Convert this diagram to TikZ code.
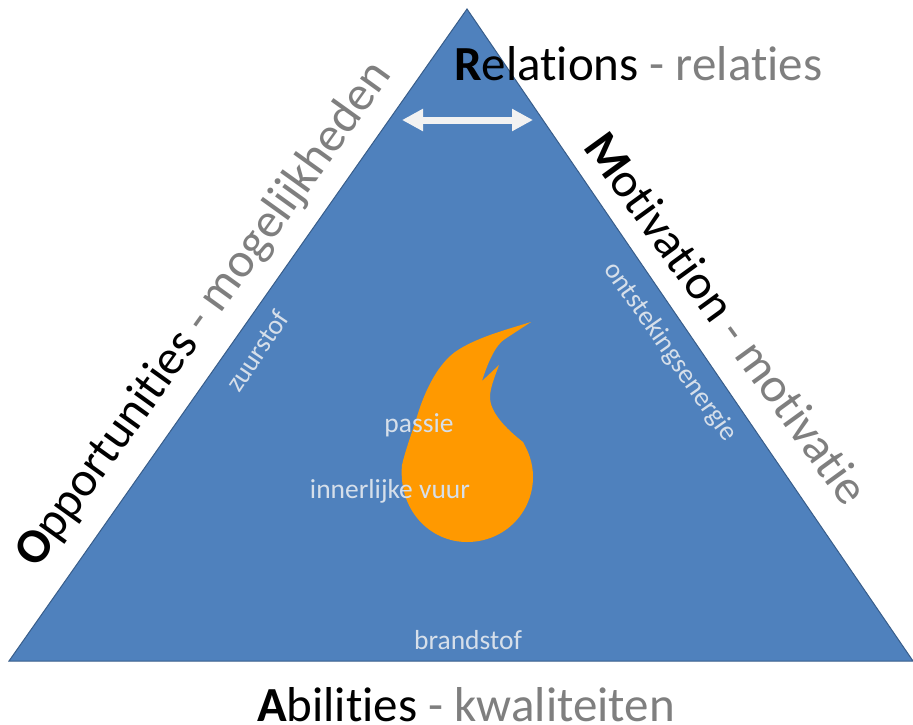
\documentclass[tikz,border=0pt]{standalone}
\usepackage{fontspec}
\setmainfont[Ligatures=NoCommon]{Carlito}
\usetikzlibrary{arrows.meta}
\definecolor{tri}{HTML}{4F81BD}
\definecolor{triedge}{HTML}{385D8A}
\definecolor{flame}{HTML}{FF9900}
\definecolor{greytxt}{HTML}{7F7F7F}
\definecolor{softtxt}{HTML}{D6DFEA}
\newcommand{\bigtxt}{\fontsize{49}{58}\selectfont}
\newcommand{\smalltxt}{\fontsize{27.5}{32}\selectfont}
\tikzset{
  lab/.style={inner sep=0pt,text=black,font=\bigtxt},
  sub/.style={inner sep=0pt,text=softtxt,font=\smalltxt},
}
\begin{document}
\begin{tikzpicture}[x=1pt,y=-1pt]
\useasboundingbox (0,0) rectangle (913,724);
\path[fill=tri,draw=triedge,line width=1pt] (467,9) -- (913,661) -- (9,661) -- cycle;
\fill[flame] (531,322)
  .. controls (505,330) and (475,338) .. (455,352)
  .. controls (436,366) and (423,395) .. (416,420)
  .. controls (410,438) and (405,452) .. (402,465)
  .. controls (398,510) and (430,542) .. (467,542)
  .. controls (505,542) and (533,512) .. (533,477)
  .. controls (533,462) and (528,451) .. (523,442)
  .. controls (505,428) and (490,412) .. (490,397)
  .. controls (490,388) and (495,376) .. (499,365)
  -- (482,381)
  .. controls (487,365) and (495,345) .. (505,339)
  -- cycle;
\coordinate (al) at (402,120);
\coordinate (ar) at (533,120);
\draw[line width=7pt,draw=white!95!black,{Triangle[width=21pt,length=21pt]}-{Triangle[width=21pt,length=21pt]}] (al) -- (ar);
\node[lab,anchor=base west] (r) at (454,80) {\textbf{R}elations \textcolor{greytxt}{- relaties}};
\node[lab,anchor=base] (a) at (466,721) {\textbf{A}bilities \textcolor{greytxt}{- kwaliteiten}};
\node[lab,anchor=base west,rotate=-54] (m) at (582,147) {\textbf{M}otivation \textcolor{greytxt}{- motivatie}};
\node[lab,anchor=base west,rotate=54.3] (o) at (37,570) {\textbf{O}pportunities \textcolor{greytxt}{- mogelijkheden}};
\node[sub,anchor=center,rotate=56] (z) at (257,351) {zuurstof};
\node[sub,anchor=center,rotate=-55] (e) at (670,352) {ontstekingsenergie};
\node[sub,anchor=center] (p) at (419,425) {passie};
\node[sub,anchor=center] (i) at (390,491) {innerlijke vuur};
\node[sub,anchor=center] (b) at (468,640) {brandstof};
\end{tikzpicture}
\end{document}
